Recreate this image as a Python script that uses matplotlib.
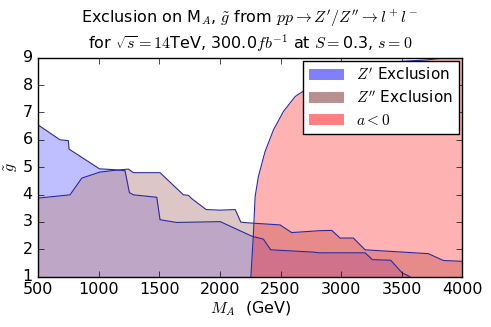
import matplotlib
matplotlib.use("Agg")
import matplotlib.pyplot as plt
from matplotlib.patches import Rectangle

# Z' exclusion boundary (M_A in GeV, g~)
m_zp = [500, 679, 748, 754, 1005, 1120, 1216, 1252, 1285, 1478, 1505, 1643,
        2002, 2262, 2358, 2419, 2757, 2826, 3198, 3258, 3409, 3505, 3546, 3567]
g_zp = [6.54, 6.0, 5.97, 5.66, 4.94, 4.91, 4.87, 4.07, 3.99, 3.9, 3.08, 2.98,
        3.01, 2.48, 2.37, 1.98, 1.90, 1.87, 1.87, 1.62, 1.60, 1.13, 1.05, 1.0]

# Z'' exclusion boundary
m_zpp = [500, 762, 859, 1008, 1120, 1244, 1285, 1505, 1698, 1740, 1767, 1886,
         2002, 2126, 2172, 2250, 2496, 2592, 2826, 2923, 2991, 3101, 3198,
         3720, 3844, 4000]
g_zpp = [3.87, 3.99, 4.6, 4.82, 4.88, 4.93, 4.8, 4.8, 3.99, 3.97, 3.85, 3.45,
         3.43, 3.45, 2.99, 2.96, 2.89, 2.61, 2.68, 2.69, 2.41, 2.41, 1.98,
         1.84, 1.59, 1.56]

# a < 0 boundary
m_neg = [2255, 2275, 2290, 2317, 2372, 2441, 2523, 2620, 2785, 2991, 3266,
         3707, 3872, 4000]
g_neg = [1.0, 2.5, 3.93, 4.66, 5.57, 6.36, 7.03, 7.58, 8.07, 8.61, 8.8,
         8.92, 9.0, 9.0]

plt.style.use("classic")
plt.rcParams["mathtext.fontset"] = "cm"

fig = plt.figure(figsize=(4.91, 3.27), dpi=100, facecolor="white")
ax = fig.add_axes([0.078, 0.154, 0.8635, 0.6695])

edge = "#2a2aa0"
ax.fill_between(m_zp, 1, g_zp, color="#8080ff", alpha=0.5, lw=0)
ax.fill_between(m_zpp, 1, g_zpp, color="rosybrown", alpha=0.5, lw=0)
ax.fill_between(m_neg, 1, g_neg, color="red", alpha=0.3, lw=0)
ax.plot(m_zp, g_zp, color=edge, lw=0.8)
ax.plot(m_zpp, g_zpp, color=edge, lw=0.8)
ax.plot(m_neg, g_neg, color=edge, lw=0.8)

ax.set_xlim(500, 4000)
ax.set_ylim(1, 9)
ax.set_xticks(range(500, 4001, 500))
ax.set_yticks(range(1, 10))
ax.tick_params(labelsize=11.5)
ax.set_xlabel(r"$M_A$  (GeV)", fontsize=11.5, labelpad=2)
ax.set_ylabel(r"$\tilde{g}$", fontsize=11.5, labelpad=2)
ax.set_title("Exclusion on M$_A$, $\\tilde{g}$ from $pp\\rightarrow Z'/Z''\\rightarrow l^+l^-$\n"
             "for $\\sqrt{s}=14$TeV, 300.0$fb^{-1}$ at $S=$0.3, $s=0$",
             fontsize=11.5, y=1.01)

handles = [Rectangle((0, 0), 1, 1, fc="#8080ff", ec="none"),
           Rectangle((0, 0), 1, 1, fc="#b89090", ec="none"),
           Rectangle((0, 0), 1, 1, fc="#ff8080", ec="none")]
labels = [r"$Z'$ Exclusion", r"$Z''$ Exclusion", r"$a<0$"]
ax.legend(handles, labels, loc="upper right", fontsize=11, borderaxespad=0.2,
          labelspacing=0.45, handlelength=2.3)

fig.savefig("out.png", dpi=100, facecolor="white")
